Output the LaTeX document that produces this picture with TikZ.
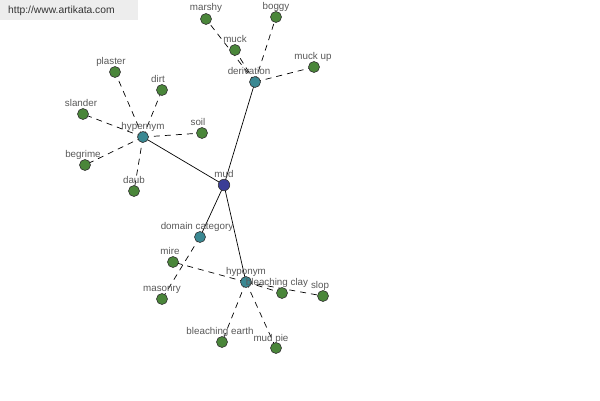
\documentclass[tikz,border=0pt]{standalone}
\usepackage{fontspec}
\setmainfont{Liberation Sans}
\begin{document}
\begin{tikzpicture}[x=1pt,y=-1pt,
  leaf/.style={circle,draw=black!80,line width=0.6pt,fill=leafc,minimum size=11pt,inner sep=0pt},
  mid/.style={circle,draw=black!80,line width=0.6pt,fill=midc,minimum size=11pt,inner sep=0pt},
  root/.style={circle,draw=black!80,line width=0.6pt,fill=rootc,minimum size=11.5pt,inner sep=0pt},
  lbl/.style={font=\fontsize{9.8}{10}\selectfont,text=black!65,inner sep=0pt,anchor=base},
  solidedge/.style={draw=black,line width=0.7pt},
  dashedge/.style={draw=black,line width=0.7pt,dash pattern=on 6pt off 5pt}]
\definecolor{leafc}{RGB}{74,134,58}
\definecolor{midc}{RGB}{58,136,146}
\definecolor{rootc}{RGB}{58,62,150}
\useasboundingbox (0,0) rectangle (600,400);
\fill[white] (0,0) rectangle (600,400);
\fill[black!7] (0,0) rectangle (138,20);
\node[font=\fontsize{10.3}{11}\selectfont,text=black!80,anchor=west,inner sep=0pt] (url) at (8,11) {http://www.artikata.com};
% hubs
\coordinate (mudp) at (224,185);
\coordinate (derp) at (255,82);
\coordinate (hypp) at (143,137);
\coordinate (domp) at (200,237);
\coordinate (hypop) at (246,282);
% leaves positions
\coordinate (marshyp) at (206,19);
\coordinate (boggyp) at (276,17);
\coordinate (muckp) at (235,50);
\coordinate (muckupp) at (314,67);
\coordinate (plasterp) at (115,72);
\coordinate (dirtp) at (162,90);
\coordinate (slanderp) at (83,114);
\coordinate (soilp) at (202,133);
\coordinate (begrimep) at (85,165);
\coordinate (daubp) at (134,191);
\coordinate (mirep) at (173,262);
\coordinate (masonryp) at (162,299);
\coordinate (bclayp) at (282,293);
\coordinate (slopp) at (323,296);
\coordinate (bearthp) at (222,342);
\coordinate (mudpiep) at (276,348);
% edges
\draw[solidedge] (mudp) -- (derp);
\draw[solidedge] (mudp) -- (hypp);
\draw[solidedge] (mudp) -- (domp);
\draw[solidedge] (mudp) -- (hypop);
\foreach \l in {marshyp,boggyp,muckp,muckupp} \draw[dashedge] (derp) -- (\l);
\foreach \l in {plasterp,dirtp,slanderp,soilp,begrimep,daubp} \draw[dashedge] (hypp) -- (\l);
\draw[dashedge] (domp) -- (masonryp);
\foreach \l in {mirep,bclayp,slopp,bearthp,mudpiep} \draw[dashedge] (hypop) -- (\l);
% nodes
\node[root] (mud) at (mudp) {};
\node[mid] (der) at (derp) {};
\node[mid] (hyp) at (hypp) {};
\node[mid] (dom) at (domp) {};
\node[mid] (hypo) at (hypop) {};
\foreach \l in {marshyp,boggyp,muckp,muckupp,plasterp,dirtp,slanderp,soilp,begrimep,daubp,mirep,masonryp,bclayp,slopp,bearthp,mudpiep}
  \node[leaf] at (\l) {};
% labels
\node[lbl] (lmud) at (224,177) {mud};
\node[lbl] (lder) at (249,74) {derivation};
\node[lbl] (lhyp) at (143,129) {hypernym};
\node[lbl] (ldom) at (197,229) {domain category};
\node[lbl] (lhypo) at (246,274) {hyponym};
\node[lbl] (lmarshy) at (206,10) {marshy};
\node[lbl] (lboggy) at (276,9) {boggy};
\node[lbl] (lmuck) at (235,42) {muck};
\node[lbl] (lmuckup) at (313,59) {muck up};
\node[lbl] (lplaster) at (111,64) {plaster};
\node[lbl] (ldirt) at (158,82) {dirt};
\node[lbl] (lslander) at (81,106) {slander};
\node[lbl] (lsoil) at (198,125) {soil};
\node[lbl] (lbegrime) at (83,157) {begrime};
\node[lbl] (ldaub) at (134,183) {daub};
\node[lbl] (lmire) at (170,254) {mire};
\node[lbl] (lmasonry) at (162,291) {masonry};
\node[lbl] (lbclay) at (277,285) {bleaching clay};
\node[lbl] (lslop) at (320,288) {slop};
\node[lbl] (lbearth) at (220,334) {bleaching earth};
\node[lbl] (lmudpie) at (271,341) {mud pie};
\end{tikzpicture}
\end{document}
